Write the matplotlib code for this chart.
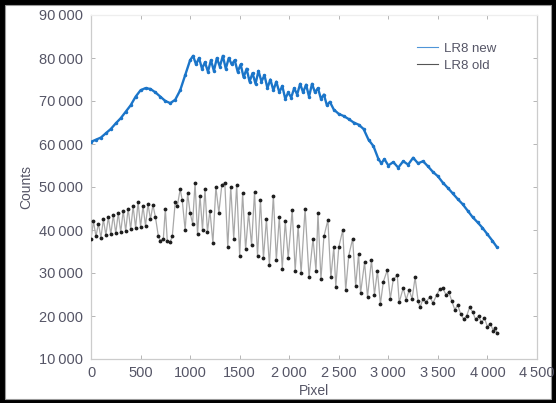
import matplotlib
matplotlib.use("Agg")
import matplotlib.pyplot as plt
from matplotlib.patches import Rectangle
from matplotlib.ticker import FuncFormatter

plt.rcParams['font.family'] = ['Liberation Sans', 'DejaVu Sans']

# LR8 new (blue)
new_x = [0, 50, 100, 150, 200, 250, 300, 350, 400, 450, 500, 550, 600, 650, 700,
         750, 800, 850, 900, 950, 1000, 1030, 1060, 1090, 1120, 1150, 1180, 1210,
         1240, 1270, 1300, 1330, 1360, 1390, 1420, 1450, 1480, 1510, 1540, 1570,
         1600, 1630, 1660, 1690, 1720, 1750, 1780, 1810, 1840, 1870, 1900, 1930,
         1960, 1990, 2020, 2050, 2080, 2110, 2140, 2170, 2200, 2230, 2260, 2290,
         2320, 2350, 2380, 2410, 2450, 2500, 2550, 2600, 2650, 2700, 2750, 2800,
         2850, 2900, 2930, 2960, 3000, 3050, 3100, 3150, 3200, 3250, 3300, 3350,
         3400, 3450, 3500, 3550, 3600, 3650, 3700, 3750, 3800, 3850, 3900, 3950,
         4000, 4050, 4096]
new_y = [60500, 61000, 61500, 62500, 63500, 64800, 66000, 67500, 69000, 71000,
         72500, 73000, 72800, 72000, 71000, 70000, 69500, 70300, 72500, 76000,
         79500, 80500, 78500, 80000, 77500, 79000, 76800, 79500, 77000, 80000,
         78000, 80500, 77500, 80000, 78500, 79500, 76800, 78500, 75500, 77500,
         74500, 76500, 74000, 77000, 74500, 76000, 73000, 75000, 72500, 74500,
         72000, 73500, 70500, 72000, 70800, 73000, 71500, 74000, 72000, 73800,
         71000, 74000, 72000, 73000, 70500, 71500, 69000, 69800, 68000, 67000,
         66500, 65800, 65000, 64500, 63500, 61000, 59500, 56500, 55500, 56500,
         55000, 55800, 54500, 56000, 55200, 56800, 55500, 56000, 54800, 53500,
         52500, 51000, 49800, 48500, 47200, 46000, 44500, 43000, 41800, 40500,
         39000, 37500, 36000]

# LR8 old (black), fringes
old_x = [0, 25, 50, 75, 100, 125, 150, 175, 200, 225, 250, 275, 300, 325, 350,
         375, 400, 425, 450, 475, 500, 525, 550, 575, 600, 625, 650, 680, 700,
         730, 750, 770, 800, 820, 850, 870, 900, 920, 950, 975, 1000, 1025, 1050,
         1075, 1100, 1125, 1150, 1175, 1200, 1230, 1260, 1290, 1320, 1350, 1380,
         1410, 1440, 1470, 1500, 1530, 1560, 1590, 1620, 1650, 1680, 1710, 1740,
         1770, 1800, 1840, 1870, 1900, 1930, 1960, 1990, 2030, 2060, 2090, 2120,
         2160, 2200, 2240, 2270, 2290, 2320, 2350, 2390, 2420, 2450, 2470, 2500,
         2540, 2570, 2600, 2640, 2670, 2700, 2720, 2760, 2790, 2830, 2860, 2890,
         2920, 2950, 2990, 3020, 3050, 3090, 3110, 3150, 3180, 3210, 3240, 3270,
         3300, 3320, 3350, 3380, 3420, 3450, 3490, 3520, 3550, 3580, 3610, 3640,
         3670, 3700, 3730, 3760, 3790, 3820, 3850, 3880, 3910, 3940, 3970, 4000,
         4030, 4060, 4080, 4096]
old_y = [38000, 42000, 38500, 41500, 38200, 42500, 38800, 43000, 39000, 43500,
         39200, 44000, 39500, 44500, 39800, 45000, 40200, 45500, 40500, 46500,
         40800, 45500, 41000, 46000, 42500, 45800, 43000, 38500, 37500, 38000,
         45000, 37400, 37300, 38500, 46500, 45500, 49500, 47000, 40000, 48500,
         44000, 41500, 51000, 39000, 48000, 40000, 49500, 39500, 44500, 37000,
         50000, 44000, 50500, 51000, 36000, 50000, 38000, 50500, 34000, 48500,
         35500, 44000, 36500, 48800, 34000, 47000, 33500, 42500, 31800, 48000,
         33000, 43000, 31000, 42000, 33500, 44700, 30500, 41000, 30000, 45000,
         29000, 38000, 30500, 44000, 28500, 38500, 42300, 29000, 36000, 26800,
         36000, 40000, 26000, 34000, 38000, 27000, 34500, 25300, 32500, 24500,
         33000, 25000, 30500, 22800, 28000, 30700, 24000, 28500, 29500, 23200,
         26500, 23800, 26000, 24000, 29000, 23500, 22000, 24000, 23200, 24500,
         23000, 25000, 26300, 26500, 25000, 25600, 23500, 21500, 22500, 20500,
         19300, 20000, 22000, 21000, 19200, 20000, 18500, 19500, 17500, 18200,
         16500, 17300, 16000]

x_ticks = [0, 500, 1000, 1500, 2000, 2500, 3000, 3500, 4000, 4500]
y_ticks = [10000, 20000, 30000, 40000, 50000, 60000, 70000, 80000, 90000]

fig = plt.figure(figsize=(5.56, 4.03), dpi=100, facecolor='black')
# white panel inside the dark frame
fig.patches.append(Rectangle((5 / 556, 4 / 403), 546 / 556, 394 / 403,
                             transform=fig.transFigure, facecolor='white',
                             edgecolor='#999999', linewidth=0.8, zorder=-10))

ax = fig.add_axes([91 / 556, 1 - 359 / 403, 446 / 556, 344 / 403])
ax.set_facecolor('white')

ax.plot(old_x, old_y, color='#a8a8a8', linewidth=0.9, zorder=2)
ax.plot(old_x, old_y, linestyle='none', marker='.', markersize=3.5,
        color='#1e1e1e', zorder=3, label='_nolegend_')
ax.plot(new_x, new_y, color='#1b75c9', linewidth=1.7, marker='.',
        markersize=3, zorder=4, label='_nolegend_')

# legend handles: thin lines
ax.plot([], [], color='#4f95d8', linewidth=0.8, label='LR8 new')
ax.plot([], [], color='#555555', linewidth=0.8, label='LR8 old')
leg = ax.legend(loc='upper right', bbox_to_anchor=(0.935, 0.955), frameon=False,
                fontsize=9.5, handlelength=1.6, handletextpad=0.4,
                labelspacing=0.4)
for t in leg.get_texts():
    t.set_color('#555566')

ax.set_xlim(0, 4500)
ax.set_ylim(10000, 90000)
ax.set_xticks(x_ticks)
ax.set_yticks(y_ticks)


def thin_thousands(v, pos):
    v = int(round(v))
    if v >= 2000:
        return f"{v // 1000}\u2009{v % 1000:03d}"
    return str(v)


ax.xaxis.set_major_formatter(FuncFormatter(thin_thousands))
ax.yaxis.set_major_formatter(FuncFormatter(thin_thousands))

ax.tick_params(direction='in', length=3, width=0.6, color='#aaaaaa',
               top=True, right=True, labelsize=10.5, labelcolor='#555566')
ax.tick_params(axis='y', pad=6)
ax.tick_params(axis='x', pad=5)
for name, sp in ax.spines.items():
    sp.set_color('#cccccc' if name != 'top' else '#eeeeee')
    sp.set_linewidth(0.9)

ax.set_xlabel('Pixel', fontsize=10, color='#555566', labelpad=3)
ax.set_ylabel('Counts', fontsize=10, color='#555566', labelpad=4)

fig.savefig('out.png', dpi=100, facecolor=fig.get_facecolor())
